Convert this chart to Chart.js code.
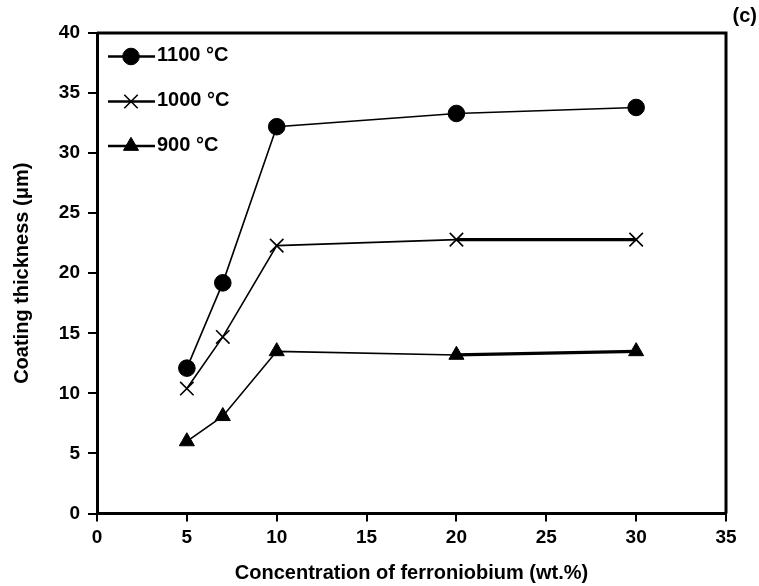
<!DOCTYPE html>
<html>
<head>
<meta charset="utf-8">
<script src="https://cdn.jsdelivr.net/npm/chart.js@4.4.1/dist/chart.umd.min.js"></script>
<style>
  html, body { margin: 0; padding: 0; background: #fff; }
  #wrap { width: 759px; height: 586px; position: relative; }
</style>
</head>
<body>
<div id="wrap"><canvas id="c" width="759" height="586"></canvas></div>
<script>
// Ferroniobium concentration (wt.%)
const concentration = [5, 7, 10, 20, 30];
// Coating thickness (µm) at each treatment temperature
const t1100 = [12.1, 19.2, 32.2, 33.3, 33.8];
const t1000 = [10.4, 14.7, 22.3, 22.8, 22.8];
const t900  = [6.0, 8.1, 13.5, 13.2, 13.5];
const seriesLabels = ['1100 °C', '1000 °C', '900 °C'];
const xTicks = [0, 5, 10, 15, 20, 25, 30, 35];
const yTicks = [0, 5, 10, 15, 20, 25, 30, 35, 40];

const FONT = '"Liberation Sans", Arial, sans-serif';
const pts = (ys) => concentration.map((x, i) => ({ x, y: ys[i] }));

const markers = [
  { style: 'circle', radius: 8.3, border: 1 },
  { style: 'crossRot', radius: 9.5, border: 1.6 },
  { style: 'triangle', radius: 8.7, border: 1 }
];

// Legend drawn inside the plot: a short line with the marker on it, then the label
const insideLegend = {
  id: 'insideLegend',
  afterDatasetsDraw(chart) {
    const ctx = chart.ctx;
    const rows = [56.5, 101.5, 146];
    ctx.save();
    rows.forEach((y, i) => {
      ctx.strokeStyle = '#000';
      ctx.lineWidth = 2.5;
      ctx.beginPath();
      ctx.moveTo(108, y);
      ctx.lineTo(155, y);
      ctx.stroke();
      ctx.fillStyle = '#000';
      ctx.lineWidth = markers[i].border;
      Chart.helpers.drawPoint(ctx, { pointStyle: markers[i].style, radius: markers[i].radius, rotation: 0, borderWidth: markers[i].border }, 131, y);
      ctx.font = 'bold 20px ' + FONT;
      ctx.textBaseline = 'middle';
      ctx.textAlign = 'left';
      ctx.fillText(seriesLabels[i], 157, y - 1);
    });
    // panel tag
    ctx.font = 'bold 20px ' + FONT;
    ctx.textAlign = 'right';
    ctx.textBaseline = 'middle';
    ctx.fillText('(c)', 757, 16);
    // top and right edges of the frame
    const a = chart.chartArea;
    ctx.lineWidth = 3;
    ctx.beginPath();
    ctx.moveTo(a.left, a.top);
    ctx.lineTo(a.right, a.top);
    ctx.lineTo(a.right, a.bottom);
    ctx.stroke();
    ctx.restore();
  }
};

// thickLast: the 20 → 30 wt.% segment is drawn heavier for the two lower series
const mk = (label, data, i, thickLast) => ({
  label,
  data: pts(data),
  showLine: true,
  borderColor: '#000',
  backgroundColor: '#000',
  borderWidth: 1.6,
  pointStyle: markers[i].style,
  pointRadius: markers[i].radius,
  pointBorderWidth: markers[i].border,
  pointBackgroundColor: '#000',
  pointBorderColor: '#000',
  segment: { borderWidth: (ctx) => (thickLast && ctx.p0DataIndex === 3 ? 3.2 : 1.6) },
  clip: false
});

new Chart(document.getElementById('c'), {
  type: 'scatter',
  data: {
    datasets: [
      mk(seriesLabels[0], t1100, 0, false),
      mk(seriesLabels[1], t1000, 1, true),
      mk(seriesLabels[2], t900, 2, true)
    ]
  },
  options: {
    responsive: false,
    animation: false,
    devicePixelRatio: 1,
    layout: { padding: { left: 0, right: 33, top: 33, bottom: 0 } },
    plugins: { legend: { display: false }, tooltip: { enabled: false } },
    scales: {
      x: {
        type: 'linear',
        min: 0, max: 35,
        afterBuildTicks: (s) => { s.ticks = xTicks.map(v => ({ value: v })); },
        afterFit: (s) => { s.height = 72.5; },
        grid: { drawOnChartArea: false, color: '#000', lineWidth: 2, tickLength: 8 },
        border: { display: true, color: '#000', width: 3 },
        ticks: { color: '#000', font: { family: FONT, size: 19, weight: 'bold' }, padding: 5, maxRotation: 0 },
        title: {
          display: true,
          text: 'Concentration of ferroniobium (wt.%)',
          color: '#000',
          font: { family: FONT, size: 20, weight: 'bold' },
          padding: { top: 0, bottom: 1 }
        }
      },
      y: {
        type: 'linear',
        min: 0, max: 40,
        afterBuildTicks: (s) => { s.ticks = yTicks.map(v => ({ value: v })); },
        afterFit: (s) => { s.width = 97; },
        grid: { drawOnChartArea: false, color: '#000', lineWidth: 2, tickLength: 9 },
        border: { display: true, color: '#000', width: 3 },
        ticks: { color: '#000', font: { family: FONT, size: 19, weight: 'bold' }, padding: 8 },
        title: {
          display: true,
          text: 'Coating thickness (μm)',
          color: '#000',
          font: { family: FONT, size: 20, weight: 'bold' },
          padding: { top: 10, bottom: 0 }
        }
      }
    }
  },
  plugins: [insideLegend]
});
</script>
</body>
</html>
